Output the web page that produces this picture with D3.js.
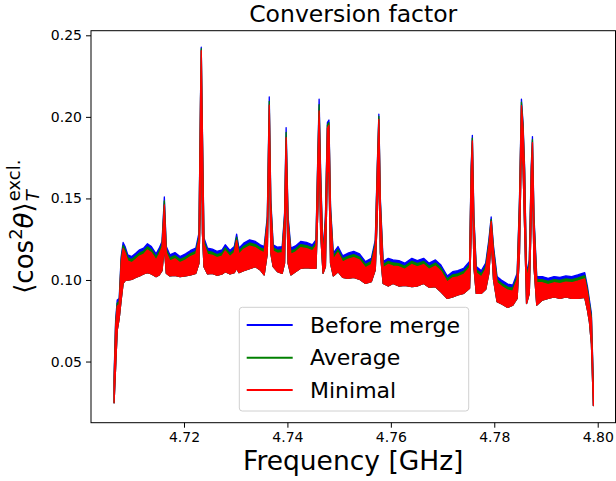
<!DOCTYPE html>
<html><head><meta charset="utf-8">
<script src="https://cdn.jsdelivr.net/npm/d3@7"></script>
<style>body{margin:0;background:#fff} svg{display:block} text{font-family:"DejaVu Sans",sans-serif;fill:#000}</style>
</head><body><svg id="c" width="616" height="481"></svg>
<script>
// Frequency samples (GHz)
const freqGHz = [4.70648,4.70678,4.70709,4.70747,4.70785,4.70823,4.70861,4.70914,4.70990,4.71066,
4.71142,4.71218,4.71294,4.71370,4.71461,4.71521,4.71575,4.71620,4.71658,4.71727,
4.71825,4.71924,4.72030,4.72129,4.72228,4.72289,4.72319,4.72334,4.72357,4.72387,
4.72456,4.72547,4.72638,4.72737,4.72798,4.72889,4.72972,4.73018,4.73063,4.73155,
4.73269,4.73382,4.73474,4.73550,4.73611,4.73649,4.73679,4.73725,4.73808,4.73899,
4.73945,4.73975,4.74013,4.74067,4.74157,4.74256,4.74370,4.74484,4.74552,4.74590,
4.74613,4.74643,4.74689,4.74735,4.74773,4.74803,4.74834,4.74887,4.74978,4.75069,
4.75168,4.75282,4.75395,4.75509,4.75623,4.75699,4.75737,4.75768,4.75798,4.75851,
4.75950,4.76041,4.76155,4.76269,4.76406,4.76512,4.76634,4.76740,4.76862,4.76968,
4.77089,4.77196,4.77295,4.77409,4.77522,4.77553,4.77576,4.77606,4.77652,4.77751,
4.77834,4.77895,4.77940,4.77986,4.78054,4.78153,4.78259,4.78358,4.78442,4.78487,
4.78525,4.78556,4.78586,4.78624,4.78677,4.78715,4.78738,4.78768,4.78822,4.78928,
4.79042,4.79156,4.79270,4.79384,4.79498,4.79612,4.79749,4.79802,4.79840,4.79878,4.79916];

// Upper edge of each series' noisy trace
const beforeMerge = [0.0405,0.0754,0.0877,0.0887,0.1144,0.1230,0.1205,0.1154,0.1144,0.1164,
0.1185,0.1195,0.1222,0.1205,0.1160,0.1195,0.1236,0.1509,0.1205,0.1154,
0.1168,0.1144,0.1160,0.1181,0.1195,0.1287,0.2109,0.2427,0.1903,0.1257,
0.1195,0.1189,0.1175,0.1185,0.1216,0.1181,0.1205,0.1281,0.1195,0.1226,
0.1246,0.1236,0.1216,0.1205,0.1390,0.2123,0.1493,0.1216,0.1201,0.1205,
0.1411,0.1934,0.1390,0.1195,0.1209,0.1236,0.1230,0.1216,0.1246,0.1801,
0.2109,0.1657,0.1164,0.1390,0.1965,0.1981,0.1452,0.1164,0.1205,0.1148,
0.1164,0.1175,0.1160,0.1113,0.1133,0.1246,0.1698,0.2016,0.1493,0.1113,
0.1133,0.1123,0.1119,0.1103,0.1133,0.1119,0.1133,0.1103,0.1123,0.1092,
0.1025,0.1051,0.1057,0.1072,0.1113,0.1698,0.1887,0.1390,0.1082,0.1057,
0.1103,0.1246,0.1386,0.1205,0.1021,0.0996,0.0975,0.0969,0.1041,0.1493,
0.2109,0.1965,0.1698,0.1041,0.1123,0.1698,0.1879,0.1390,0.1021,0.1021,
0.1010,0.1021,0.1016,0.1025,0.1021,0.1031,0.1045,0.0959,0.0877,0.0795,0.0364];

const average = [0.0386,0.0735,0.0858,0.0868,0.1125,0.1211,0.1186,0.1135,0.1125,0.1145,
0.1166,0.1176,0.1203,0.1186,0.1141,0.1176,0.1217,0.1485,0.1186,0.1135,
0.1149,0.1125,0.1141,0.1162,0.1176,0.1268,0.2090,0.2418,0.1884,0.1238,
0.1176,0.1170,0.1156,0.1166,0.1197,0.1162,0.1186,0.1262,0.1176,0.1207,
0.1227,0.1217,0.1197,0.1186,0.1371,0.2095,0.1474,0.1197,0.1182,0.1186,
0.1392,0.1905,0.1371,0.1176,0.1190,0.1217,0.1211,0.1197,0.1227,0.1780,
0.2075,0.1635,0.1145,0.1371,0.1950,0.1965,0.1433,0.1145,0.1186,0.1129,
0.1145,0.1156,0.1141,0.1094,0.1114,0.1227,0.1679,0.2003,0.1474,0.1094,
0.1114,0.1104,0.1100,0.1084,0.1114,0.1100,0.1114,0.1084,0.1104,0.1073,
0.1006,0.1032,0.1038,0.1053,0.1094,0.1679,0.1870,0.1371,0.1063,0.1038,
0.1084,0.1227,0.1372,0.1186,0.1002,0.0977,0.0956,0.0950,0.1022,0.1474,
0.2090,0.1950,0.1679,0.1022,0.1104,0.1679,0.1860,0.1371,0.1002,0.1002,
0.0991,0.1002,0.0997,0.1006,0.1002,0.1012,0.1026,0.0940,0.0858,0.0776,0.0345];

const minimal = [0.0367,0.0716,0.0839,0.0849,0.1106,0.1192,0.1167,0.1116,0.1106,0.1126,
0.1147,0.1157,0.1184,0.1167,0.1122,0.1157,0.1198,0.1460,0.1167,0.1116,
0.1130,0.1106,0.1122,0.1143,0.1157,0.1249,0.2071,0.2406,0.1865,0.1219,
0.1157,0.1151,0.1137,0.1147,0.1178,0.1143,0.1167,0.1243,0.1157,0.1188,
0.1208,0.1198,0.1178,0.1167,0.1352,0.2072,0.1455,0.1178,0.1163,0.1167,
0.1373,0.1873,0.1352,0.1157,0.1171,0.1198,0.1192,0.1178,0.1208,0.1755,
0.2037,0.1610,0.1126,0.1352,0.1930,0.1948,0.1414,0.1126,0.1167,0.1110,
0.1126,0.1137,0.1122,0.1075,0.1095,0.1208,0.1660,0.1985,0.1455,0.1075,
0.1095,0.1085,0.1081,0.1065,0.1095,0.1081,0.1095,0.1065,0.1085,0.1054,
0.0987,0.1013,0.1019,0.1034,0.1075,0.1660,0.1852,0.1352,0.1044,0.1019,
0.1065,0.1208,0.1359,0.1167,0.0983,0.0958,0.0937,0.0931,0.1003,0.1455,
0.2068,0.1930,0.1660,0.1003,0.1085,0.1660,0.1842,0.1352,0.0983,0.0983,
0.0972,0.0983,0.0978,0.0987,0.0983,0.0993,0.1007,0.0921,0.0839,0.0757,0.0326];

// Lower edge of the noisy band (common bottom of the traces)
const bandLow = [0.0247,0.0466,0.0692,0.0764,0.0877,0.0979,0.0996,0.1000,0.1004,0.1016,
0.1025,0.1037,0.1045,0.1037,0.1021,0.1031,0.1057,0.1205,0.1041,0.1025,
0.1029,0.1021,0.1025,0.1031,0.1041,0.1103,0.1493,0.2250,0.1287,0.1082,
0.1037,0.1041,0.1029,0.1037,0.1051,0.1037,0.1045,0.1072,0.1045,0.1057,
0.1070,0.1082,0.1062,0.1031,0.1164,0.1900,0.1164,0.1082,0.1051,0.1041,
0.1103,0.1698,0.1103,0.1031,0.1051,0.1072,0.1076,0.1072,0.1072,0.1452,
0.1862,0.1287,0.1041,0.1082,0.1698,0.1657,0.1103,0.1025,0.1051,0.1016,
0.1010,0.1016,0.1004,0.0979,0.0990,0.1062,0.1390,0.1760,0.1164,0.0979,
0.0963,0.0979,0.0963,0.0967,0.0959,0.0963,0.0979,0.0955,0.0959,0.0928,
0.0887,0.0897,0.0908,0.0918,0.0949,0.1287,0.1657,0.1082,0.0918,0.0918,
0.0943,0.1041,0.1246,0.1000,0.0867,0.0852,0.0832,0.0846,0.0887,0.1164,
0.1862,0.1698,0.1328,0.0856,0.0918,0.1390,0.1657,0.1082,0.0846,0.0877,
0.0887,0.0897,0.0887,0.0897,0.0887,0.0887,0.0893,0.0815,0.0743,0.0610,0.0230];

const seriesNames = ["Before merge", "Average", "Minimal"];
const seriesColors = ["#0000ff", "#008000", "#ff0000"];
const xTicks = [4.72, 4.74, 4.76, 4.78, 4.80];
const yTicks = [0.05, 0.10, 0.15, 0.20, 0.25];
const xDomain = [4.70202, 4.80344];
const yDomain = [0.01251, 0.25282];

const svg = d3.select("#c");
const L = 91, R = 615.5, T = 30.7, B = 422.7;
const x = d3.scaleLinear().domain(xDomain).range([L, R]);
const y = d3.scaleLinear().domain(yDomain).range([B, T]);

svg.append("defs").append("clipPath").attr("id", "clip")
  .append("rect").attr("x", L).attr("y", T).attr("width", R - L).attr("height", B - T);

const plot = svg.append("g").attr("clip-path", "url(#clip)");
[beforeMerge, average, minimal].forEach((s, i) => {
  const area = d3.area()
    .x((d, j) => x(freqGHz[j]))
    .y0((d, j) => y(bandLow[j]))
    .y1(d => y(d));
  plot.append("path").datum(s).attr("d", area)
    .attr("fill", seriesColors[i]).attr("stroke", seriesColors[i])
    .attr("stroke-width", 1.3).attr("stroke-linejoin", "round");
});

// axes
const xAxis = svg.append("g").attr("transform", `translate(0,${B})`)
  .call(d3.axisBottom(x).tickValues(xTicks).tickFormat(d3.format(".2f")).tickSize(5).tickPadding(4));
const yAxis = svg.append("g").attr("transform", `translate(${L},0)`)
  .call(d3.axisLeft(y).tickValues(yTicks).tickFormat(d3.format(".2f")).tickSize(5).tickPadding(4));
[xAxis, yAxis].forEach(a => {
  a.select(".domain").remove();
  a.selectAll("text").attr("font-size", 14).attr("font-family", "DejaVu Sans").attr("fill", "#000");
  a.selectAll("line").attr("stroke", "#000");
});

svg.append("rect").attr("x", L).attr("y", T).attr("width", R - L).attr("height", B - T)
  .attr("fill", "none").attr("stroke", "#000").attr("stroke-width", 1);

// title and labels
svg.append("text").attr("x", (L + R) / 2).attr("y", 22).attr("text-anchor", "middle")
  .attr("font-size", 23.5).text("Conversion factor");
svg.append("text").attr("x", (L + R) / 2).attr("y", 470).attr("text-anchor", "middle")
  .attr("font-size", 26.5).text("Frequency [GHz]");

const yl = svg.append("g");
const t1 = yl.append("text").attr("font-size", 26);
t1.append("tspan").text("\u27E8cos");
t1.append("tspan").attr("font-size", 18).attr("dy", -11).text("2");
t1.append("tspan").attr("dy", 11).attr("font-style", "italic").text("\u03B8");
t1.append("tspan").text("\u27E9");
const w1 = t1.node().getComputedTextLength();
const sub = yl.append("text").attr("font-size", 18).attr("font-style", "italic")
  .attr("x", w1 + 1).attr("y", 6).text("T");
const sup = yl.append("text").attr("font-size", 18)
  .attr("x", w1 + 1).attr("y", -13).text("excl.");
const w = w1 + 1 + Math.max(sub.node().getComputedTextLength(), sup.node().getComputedTextLength());
yl.attr("transform", `translate(33,${(T + B) / 2 + w / 2}) rotate(-90)`);

// legend
const lg = svg.append("g");
lg.append("rect").attr("x", 239.3).attr("y", 307.3).attr("width", 229.4).attr("height", 103.7)
  .attr("rx", 3).attr("fill", "#fff").attr("fill-opacity", 0.8)
  .attr("stroke", "#d0d0d0").attr("stroke-width", 1);
const rowY = [325, 357.7, 390];
seriesNames.forEach((n, i) => {
  lg.append("line").attr("x1", 246.7).attr("x2", 292.7).attr("y1", rowY[i]).attr("y2", rowY[i])
    .attr("stroke", seriesColors[i]).attr("stroke-width", 2);
  lg.append("text").attr("x", 310).attr("y", rowY[i] + 7.5).attr("font-size", 22).text(n);
});
</script></body></html>
